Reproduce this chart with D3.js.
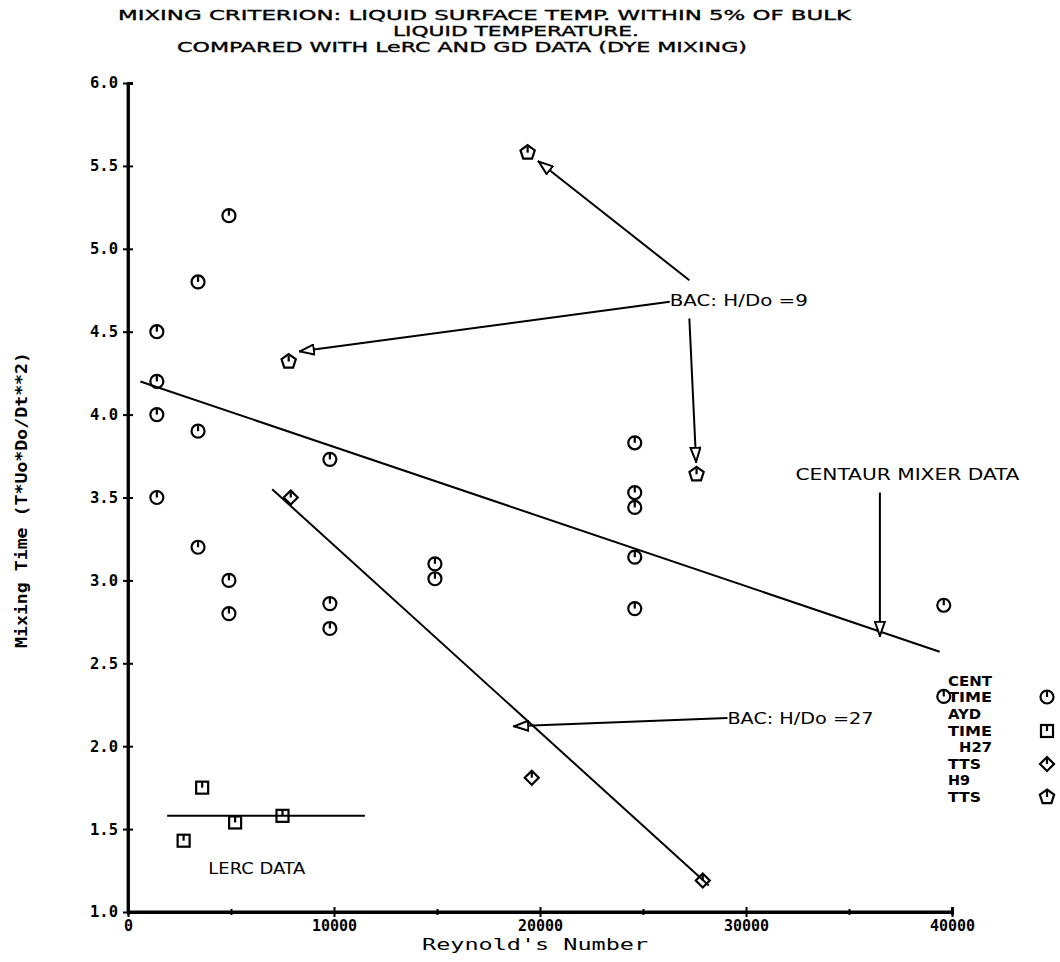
<!DOCTYPE html>
<html><head><meta charset="utf-8">
<script src="https://cdn.jsdelivr.net/npm/d3@7"></script>
<style>
body{margin:0;background:#fff;}
svg{display:block;}
text{font-family:"DejaVu Sans Condensed","DejaVu Sans",sans-serif;fill:#000;}
</style></head>
<body>
<svg id="c" width="1060" height="962"></svg>
<script>
// ---- data ----
const titleLines = ["MIXING CRITERION: LIQUID SURFACE TEMP. WITHIN 5% OF BULK",
                    "LIQUID TEMPERATURE.",
                    "COMPARED WITH LeRC AND GD DATA (DYE MIXING)"];
const xTicks = [0,10000,20000,30000,40000];
const xMinorTicks = [5000,15000,25000,35000];
const yTicks = [1.0,1.5,2.0,2.5,3.0,3.5,4.0,4.5,5.0,5.5,6.0];

const centX = [1400,1400,1400,1400,3400,3400,3400,4900,4900,4900,9800,9800,9800,14900,14900,24600,24600,24600,24600,24600,39600,39600];
const centY = [4.5,4.2,4.0,3.5,4.8,3.9,3.2,5.2,3.0,2.8,3.73,2.86,2.71,3.1,3.01,3.83,3.53,3.44,3.14,2.83,2.85,2.3];
const aydX = [2700,3600,5200,7500];
const aydY = [1.43,1.75,1.54,1.58];
const h27X = [7900,19600,27900];
const h27Y = [3.5,1.81,1.19];
const h9X = [19400,7800,27600];
const h9Y = [5.58,4.32,3.64];

// fitted lines [x1,y1,x2,y2]
const centLine = [600,4.20,39400,2.57];
const h27Line = [7000,3.55,28200,1.16];
const lercLine = [1900,1.58,11500,1.58];

// annotations
const annText = [
  {t:"BAC:  H/Do =9", x:26300, y:4.69, w:138},
  {t:"BAC:  H/Do =27", x:29100, y:2.17, w:146},
  {t:"CENTAUR MIXER DATA", x:32400, y:3.64, w:224},
  {t:"LERC DATA", x:3900, y:1.26, w:97}
];
const arrows = [
  [27250,4.81,19900,5.53],
  [26300,4.68,8300,4.38],
  [27250,4.58,27580,3.71],
  [29100,2.17,18700,2.12],
  [36500,3.53,36500,2.66]
];
const legendLabels = ["CENT","TIME","AYD","TIME","H27","TTS","H9","TTS"];
const legendSyms = ["circle","square","diamond","pentagon"];

// ---- chart ----
const svg = d3.select("#c");
const x = d3.scaleLinear().domain([0,40000]).range([128,952]);
const y = d3.scaleLinear().domain([1,6]).range([912,83]);

// title
const tl = [{x0:118,by:20,w:733},{x0:393,by:36,w:246},{x0:177,by:52,w:570}];
svg.selectAll("text.title").data(titleLines).join("text")
  .attr("class","title")
  .attr("x",(d,i)=>tl[i].x0).attr("y",(d,i)=>tl[i].by)
  .attr("font-size",13.5).attr("stroke","#000").attr("stroke-width",0.3)
  .attr("textLength",(d,i)=>tl[i].w).attr("lengthAdjust","spacingAndGlyphs")
  .text(d=>d);

// axes
const axX = svg.append("g").attr("transform","translate(0,912)")
  .call(d3.axisBottom(x).tickValues(xTicks).tickSize(5).tickFormat(d3.format("d")));
svg.append("g").attr("transform","translate(0,912)")
  .call(d3.axisBottom(x).tickValues(xTicks).tickSize(-5).tickFormat(""));
svg.append("g").attr("transform","translate(0,912)")
  .call(d3.axisBottom(x).tickValues(xMinorTicks).tickSize(3).tickFormat(""));
svg.append("g").attr("transform","translate(0,912)")
  .call(d3.axisBottom(x).tickValues(xMinorTicks).tickSize(-3).tickFormat(""));
const axY = svg.append("g").attr("transform","translate(128,0)")
  .call(d3.axisLeft(y).tickValues(yTicks).tickSize(5).tickFormat(d3.format(".1f")));
svg.append("g").attr("transform","translate(128,0)")
  .call(d3.axisLeft(y).tickValues(yTicks).tickSize(-5).tickFormat(""));
svg.selectAll(".domain").attr("stroke","#000").attr("stroke-width",2.8);
svg.selectAll(".tick line").attr("stroke","#000").attr("stroke-width",2);
axX.selectAll(".tick text").attr("font-size",15).attr("dy","0.9em").attr("y",5);
axY.selectAll(".tick text").attr("font-size",15.5).attr("x",-10);
axY.select(".domain").attr("d","M0,912V83");
axX.select(".domain").attr("d","M128,0H952");
svg.selectAll(".tick text").style("font-family","'DejaVu Sans Mono',monospace").style("font-weight","bold");

// axis titles
svg.append("text").attr("x",535).attr("y",950).attr("text-anchor","middle")
  .attr("font-size",16).attr("textLength",226).attr("lengthAdjust","spacingAndGlyphs")
  .style("font-family","'DejaVu Sans Mono',monospace").text("Reynold's Number");
svg.append("text").attr("transform","translate(27,500) rotate(-90)").attr("text-anchor","middle")
  .attr("font-size",15).attr("font-weight","bold").attr("textLength",296).attr("lengthAdjust","spacingAndGlyphs")
  .style("font-family","'DejaVu Sans Mono',monospace").text("Mixing Time (T*Uo*Do/Dt**2)");

// lines
[centLine,h27Line,lercLine].forEach(l=>{
  svg.append("line").attr("x1",x(l[0])).attr("y1",y(l[1])).attr("x2",x(l[2])).attr("y2",y(l[3]))
    .attr("stroke","#000").attr("stroke-width",2);
});

// arrow marker
const defs = svg.append("defs");
defs.append("marker").attr("id","ah").attr("viewBox","0 0 16 12").attr("refX",16).attr("refY",6)
  .attr("markerWidth",16).attr("markerHeight",12).attr("markerUnits","userSpaceOnUse").attr("orient","auto")
  .append("path").attr("d","M1,1 L15,6 L1,11 Z").attr("fill","#fff").attr("stroke","#000").attr("stroke-width",2);
arrows.forEach(a=>{
  svg.append("line").attr("x1",x(a[0])).attr("y1",y(a[1])).attr("x2",x(a[2])).attr("y2",y(a[3]))
    .attr("stroke","#000").attr("stroke-width",2).attr("marker-end","url(#ah)");
});

// symbols
function sym(g,type,cx,cy){
  const s = g.append("g").attr("transform",`translate(${cx},${cy})`)
    .attr("fill","none").attr("stroke","#000").attr("stroke-width",2.2);
  if(type==="circle") s.append("circle").attr("r",6.5);
  if(type==="square") s.append("rect").attr("x",-6).attr("y",-6).attr("width",12).attr("height",12);
  if(type==="diamond") s.append("path").attr("d","M0,-7 L7,0 L0,7 L-7,0 Z");
  if(type==="pentagon"){
    const pts = d3.range(5).map(i=>{const a=-Math.PI/2+i*2*Math.PI/5;return [7.5*Math.cos(a),7.5*Math.sin(a)];});
    s.append("path").attr("d","M"+pts.map(p=>p.join(",")).join("L")+"Z");
  }
  s.append("line").attr("x1",0).attr("y1",-6).attr("x2",0).attr("y2",0);
}
const gp = svg.append("g");
centX.forEach((v,i)=>sym(gp,"circle",x(v),y(centY[i])));
aydX.forEach((v,i)=>sym(gp,"square",x(v),y(aydY[i])));
h27X.forEach((v,i)=>sym(gp,"diamond",x(v),y(h27Y[i])));
h9X.forEach((v,i)=>sym(gp,"pentagon",x(v),y(h9Y[i])));

// annotation text
svg.selectAll("text.ann").data(annText).join("text").attr("class","ann")
  .attr("x",d=>x(d.x)).attr("y",d=>y(d.y)).attr("dy","0.35em")
  .attr("font-size",16).attr("textLength",d=>d.w).attr("lengthAdjust","spacingAndGlyphs").text(d=>d.t);

// legend
const legY = [681,697,714,731,747,764,780,797];
const legW = [44,44,33,44,33,33,22,33];
svg.selectAll("text.leg").data(legendLabels).join("text").attr("class","leg")
  .attr("x",(d,i)=>i===4?959:948).attr("y",(d,i)=>legY[i]).attr("dy","0.35em")
  .attr("font-size",13.5).attr("font-weight","bold")
  .attr("textLength",(d,i)=>legW[i]).attr("lengthAdjust","spacingAndGlyphs").text(d=>d);
legendSyms.forEach((t,i)=>sym(svg,t,1047,legY[i*2+1]));
</script>
</body></html>
